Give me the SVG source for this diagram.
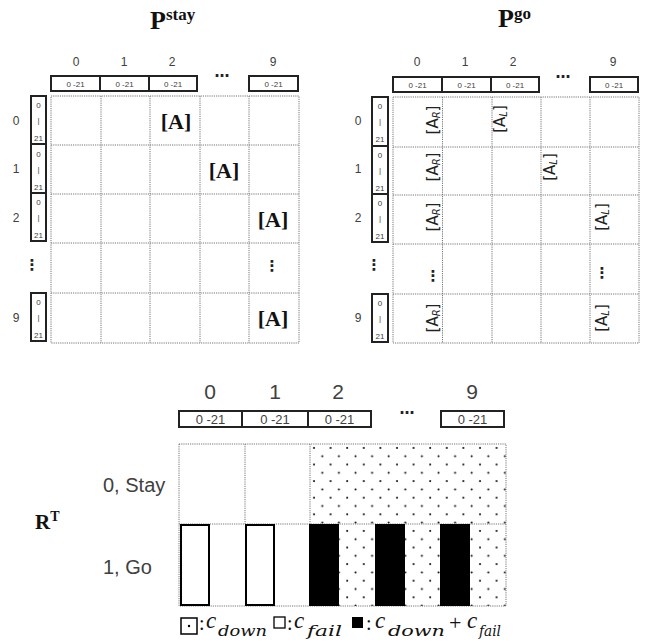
<svg xmlns="http://www.w3.org/2000/svg" width="648" height="644" viewBox="0 0 648 644">
<defs>
<pattern id="dots" patternUnits="userSpaceOnUse" x="310" y="444" width="16.6" height="16.6">
<circle cx="4" cy="4" r="1" fill="#000"/>
<circle cx="12.3" cy="12.3" r="1" fill="#000"/>
</pattern>
<style>
.grid{fill:none;stroke:#777;stroke-width:1;stroke-dasharray:1.2 1}
.hb{fill:#fff;stroke:#222;stroke-width:2}
.sans{font-family:"Liberation Sans","DejaVu Sans",sans-serif;fill:#404040}
.lbl{font-size:12px;text-anchor:middle}
.small{font-size:8px;text-anchor:middle}
.math{font-family:"Liberation Serif","DejaVu Serif",serif;fill:#111}
.bold{font-weight:bold}
.it{font-style:italic}
.sub{font-family:"DejaVu Serif",serif;font-style:italic;font-size:14px;fill:#111}
.vd{font-family:"DejaVu Sans",sans-serif;font-weight:bold;font-size:15px;fill:#222;text-anchor:middle}
</style>
</defs>
<rect width="648" height="644" fill="#fff"/>

<!-- P stay -->
<g id="pstay">
<text x="150" y="29" class="math bold" font-size="26">P<tspan font-size="17" dy="-9">stay</tspan></text>
<g class="sans lbl">
<text x="76" y="66">0</text><text x="124" y="66">1</text><text x="172" y="66">2</text><text x="273" y="66">9</text>
<text x="16" y="125">0</text><text x="16" y="173">1</text><text x="16" y="222">2</text><text x="16" y="322">9</text>
</g>
<text x="222" y="77" class="vd">…</text>
<text x="32" y="270" class="vd">⋮</text>
<rect class="hb" x="51" y="76" width="49" height="15"/><rect class="hb" x="100" y="76" width="49" height="15"/><rect class="hb" x="149" y="76" width="48" height="15"/><rect class="hb" x="249" y="76" width="49" height="15"/>
<g class="sans small"><text x="75.5" y="86.5">0 -21</text><text x="124.5" y="86.5">0 -21</text><text x="173" y="86.5">0 -21</text><text x="273.5" y="86.5">0 -21</text></g>
<rect class="hb" x="31" y="96" width="15" height="48"/><rect class="hb" x="31" y="144" width="15" height="49"/><rect class="hb" x="31" y="193" width="15" height="48"/><rect class="hb" x="31" y="293" width="15" height="48"/>
<g class="sans small">
<text x="38.5" y="108">0</text><text x="38.5" y="123">|</text><text x="38.5" y="141">21</text>
<text x="38.5" y="157">0</text><text x="38.5" y="172">|</text><text x="38.5" y="190">21</text>
<text x="38.5" y="205">0</text><text x="38.5" y="220">|</text><text x="38.5" y="238">21</text>
<text x="38.5" y="305">0</text><text x="38.5" y="320">|</text><text x="38.5" y="338">21</text>
</g>
<rect class="grid" x="51" y="96" width="248" height="247"/>
<path class="grid" d="M101 96V343M150 96V343M200 96V343M249 96V343M51 145H299M51 194H299M51 243H299M51 293H299"/>
<g class="math bold" font-size="22" text-anchor="middle">
<text x="176" y="129">[A]</text><text x="224" y="178">[A]</text><text x="273" y="227">[A]</text><text x="273" y="326">[A]</text>
</g>
<text x="272" y="271" class="vd">⋮</text>
</g>

<!-- P go -->
<g id="pgo">
<text x="498" y="27" class="math bold" font-size="26">P<tspan font-size="17" dy="-8">go</tspan></text>
<g class="sans lbl">
<text x="417" y="66">0</text><text x="465" y="66">1</text><text x="513" y="66">2</text><text x="613" y="66">9</text>
<text x="358" y="125">0</text><text x="358" y="173">1</text><text x="358" y="222">2</text><text x="358" y="322">9</text>
</g>
<text x="563" y="78" class="vd">…</text>
<text x="374" y="270" class="vd">⋮</text>
<rect class="hb" x="393" y="77" width="49" height="15"/><rect class="hb" x="442" y="77" width="49" height="15"/><rect class="hb" x="491" y="77" width="48" height="15"/><rect class="hb" x="590" y="77" width="48" height="15"/>
<g class="sans small"><text x="417.5" y="87.5">0 -21</text><text x="466.5" y="87.5">0 -21</text><text x="515" y="87.5">0 -21</text><text x="614" y="87.5">0 -21</text></g>
<rect class="hb" x="372" y="97" width="16" height="49"/><rect class="hb" x="372" y="146" width="16" height="48"/><rect class="hb" x="372" y="194" width="16" height="48"/><rect class="hb" x="372" y="294" width="16" height="48"/>
<g class="sans small">
<text x="380" y="109">0</text><text x="380" y="124">|</text><text x="380" y="142">21</text>
<text x="380" y="158">0</text><text x="380" y="173">|</text><text x="380" y="191">21</text>
<text x="380" y="206">0</text><text x="380" y="221">|</text><text x="380" y="239">21</text>
<text x="380" y="306">0</text><text x="380" y="321">|</text><text x="380" y="339">21</text>
</g>
<rect class="grid" x="393" y="97" width="246" height="246"/>
<path class="grid" d="M442.5 97V343M492 97V343M541 97V343M590 97V343M393 147H639M393 195H639M393 244H639M393 294H639"/>
<g font-family="DejaVu Sans, sans-serif" fill="#222" font-size="15" text-anchor="middle">
<text transform="translate(438,120) rotate(-90)">[A<tspan font-style="italic" font-size="10" dy="2">R</tspan><tspan dy="-2">]</tspan></text>
<text transform="translate(438,167) rotate(-90)">[A<tspan font-style="italic" font-size="10" dy="2">R</tspan><tspan dy="-2">]</tspan></text>
<text transform="translate(438,217) rotate(-90)">[A<tspan font-style="italic" font-size="10" dy="2">R</tspan><tspan dy="-2">]</tspan></text>
<text transform="translate(438,318) rotate(-90)">[A<tspan font-style="italic" font-size="10" dy="2">R</tspan><tspan dy="-2">]</tspan></text>
<text transform="translate(505,119) rotate(-90)">[A<tspan font-style="italic" font-size="10" dy="2">L</tspan><tspan dy="-2">]</tspan></text>
<text transform="translate(555,167) rotate(-90)">[A<tspan font-style="italic" font-size="10" dy="2">L</tspan><tspan dy="-2">]</tspan></text>
<text transform="translate(607,217) rotate(-90)">[A<tspan font-style="italic" font-size="10" dy="2">L</tspan><tspan dy="-2">]</tspan></text>
<text transform="translate(607,318) rotate(-90)">[A<tspan font-style="italic" font-size="10" dy="2">L</tspan><tspan dy="-2">]</tspan></text>
</g>
<text x="433" y="281" class="vd">⋮</text><text x="602" y="278" class="vd">⋮</text>
</g>

<!-- R^T -->
<g id="rt">
<text x="35" y="529" class="math bold" font-size="21">R<tspan font-size="14" dy="-8">T</tspan></text>
<g class="sans" font-size="21" text-anchor="middle">
<text x="210" y="399">0</text><text x="275" y="399">1</text><text x="338" y="399">2</text><text x="472" y="399">9</text>
</g>
<text x="407" y="414" class="vd" font-size="18">…</text>
<rect class="hb" x="179" y="411" width="63" height="16"/><rect class="hb" x="242" y="411" width="66" height="16"/><rect class="hb" x="308" y="411" width="63" height="16"/><rect class="hb" x="441" y="411" width="63" height="16"/>
<g class="sans" font-size="13" text-anchor="middle"><text x="210.5" y="424">0 -21</text><text x="275" y="424">0 -21</text><text x="339.5" y="424">0 -21</text><text x="472.5" y="424">0 -21</text></g>
<text x="103" y="492" class="sans" font-size="20">0, Stay</text>
<text x="103" y="574" class="sans" font-size="20">1, Go</text>
<rect x="310" y="444" width="196" height="80" fill="url(#dots)"/>
<rect x="339" y="524" width="36" height="82" fill="url(#dots)"/>
<rect x="405" y="524" width="35" height="82" fill="url(#dots)"/>
<rect x="470" y="524" width="36" height="82" fill="url(#dots)"/>
<rect class="grid" x="179" y="444" width="327" height="162"/>
<path class="grid" d="M245 444V524M310 444V524M179 524H506"/>
<rect x="181" y="525" width="28" height="80" fill="#fff" stroke="#000" stroke-width="2"/>
<rect x="246" y="525" width="28" height="80" fill="#fff" stroke="#000" stroke-width="2"/>
<rect x="309" y="524" width="30" height="82" fill="#000"/>
<rect x="375" y="524" width="30" height="82" fill="#000"/>
<rect x="440" y="524" width="30" height="82" fill="#000"/>
</g>

<!-- legend -->
<g id="legend">
<rect x="181" y="618" width="16" height="16" fill="#fff" stroke="#000" stroke-width="1.5"/>
<circle cx="189" cy="626" r="1.2" fill="#000"/>
<text x="199" y="630" class="math" font-size="20">:</text>
<text x="206" y="628" class="math it" font-size="23">c</text>
<text x="218" y="636" class="sub" textLength="49" lengthAdjust="spacingAndGlyphs">down</text>
<rect x="274" y="617" width="11" height="11" fill="#fff" stroke="#000" stroke-width="1.3"/>
<text x="287" y="630" class="math" font-size="20">:</text>
<text x="294" y="628" class="math it" font-size="23">c</text>
<text x="307" y="636" class="sub" textLength="35" lengthAdjust="spacingAndGlyphs">fail</text>
<rect x="352" y="617" width="11" height="11" fill="#000"/>
<text x="366" y="630" class="math" font-size="20">:</text>
<text x="375" y="628" class="math it" font-size="23">c</text>
<text x="388" y="636" class="sub" textLength="57" lengthAdjust="spacingAndGlyphs">down</text>
<text x="449" y="630" class="math" font-size="22">+</text>
<text x="467" y="628" class="math it" font-size="23">c</text>
<text x="479" y="636" class="sub" textLength="22" lengthAdjust="spacingAndGlyphs">fail</text>
</g>
</svg>
